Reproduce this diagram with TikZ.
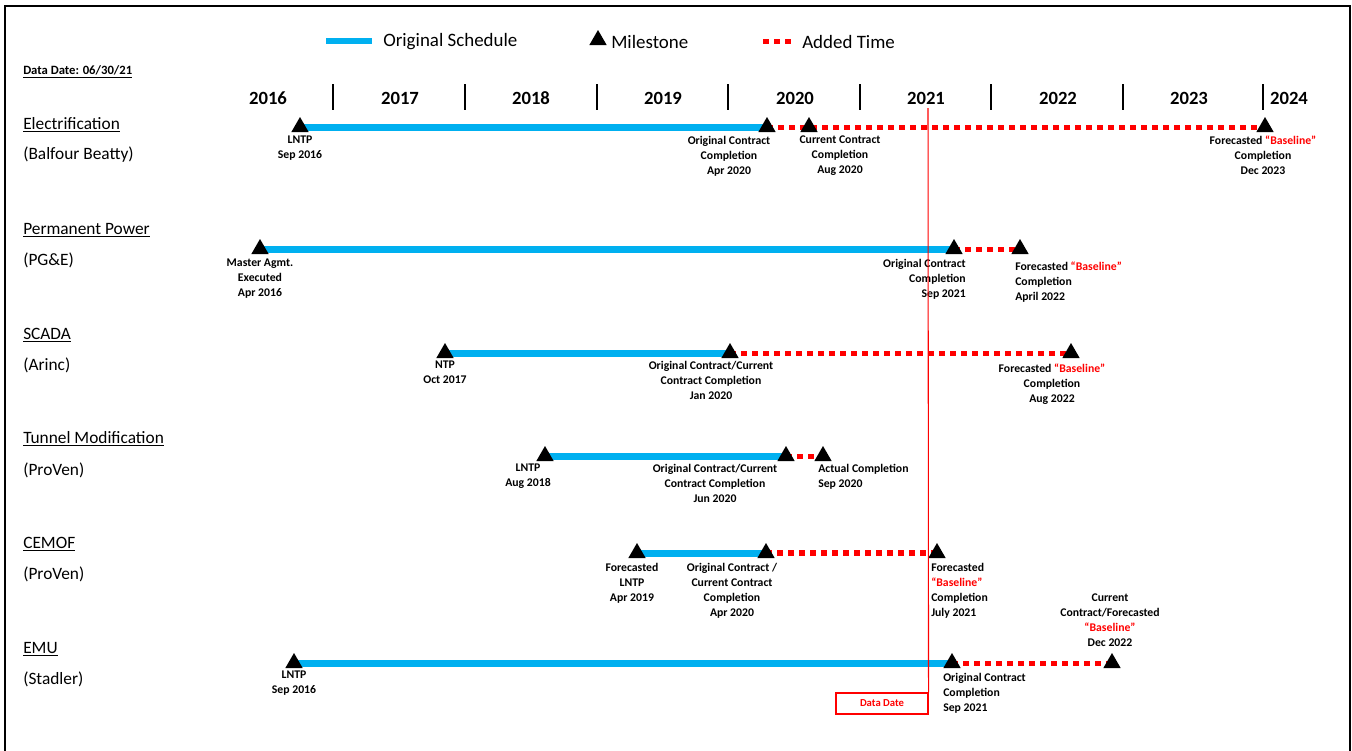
\documentclass[tikz,border=0pt]{standalone}
\usepackage{fontspec}
\setmainfont{Carlito}
\usetikzlibrary{shapes.geometric}
\definecolor{schedblue}{HTML}{00B0F0}
\definecolor{addred}{HTML}{FF0000}
\pgfdeclarelayer{bg}
\pgfsetlayers{bg,main}
\newcommand{\bl}{\textcolor{addred}{``Baseline''}}
\begin{document}
\begin{tikzpicture}[x=0.75pt,y=-0.75pt,
 ms/.style={regular polygon, regular polygon sides=3, fill=black, inner sep=0pt, minimum size=15pt},
 orig/.style={line width=5.25pt, draw=schedblue},
 added/.style={line width=3.75pt, draw=addred, dash pattern=on 4.5pt off 3.75pt},
 lbl/.style={font=\fontsize{8.8}{11.25}\selectfont\bfseries, align=center, inner sep=0pt, anchor=north},
 lbll/.style={lbl, align=left, anchor=north west},
 lblr/.style={lbl, align=right, anchor=north east},
 yr/.style={font=\fontsize{14}{16}\selectfont\bfseries, inner sep=0pt},
 tickmark/.style={line width=1pt, draw=black},
 ttl/.style={font=\fontsize{13}{15}\selectfont, anchor=west, inner sep=0pt},
 leg/.style={font=\fontsize{14.2}{16}\selectfont, anchor=west, inner sep=0pt},
]
\useasboundingbox (0,0) rectangle (1352,750);
\draw[line width=1.5pt] (5,752) -- (5,6) -- (1350,6) -- (1350,752);

% legend
\coordinate (lb1) at (326,41); \coordinate (lb2) at (372,41);
\draw[line width=4.5pt, schedblue] (lb1) -- (lb2);
\node[leg] (lbt) at (383,42) {Original Schedule};
\node[ms] (lm) at (598,40) {};
\node[leg] (lmt) at (611,42) {Milestone};
\coordinate (lr1) at (763,41); \coordinate (lr2) at (794,41);
\draw[added] (lr1) -- (lr2);
\node[leg] (lrt) at (802,42) {Added Time};

\node[font=\fontsize{9.5}{11}\selectfont\bfseries, anchor=west, inner sep=0pt] (dd) at (23,72) {\underline{Data Date: 06/30/21}};

% years
\foreach \x/\y in {268/2016,400/2017,531/2018,663/2019,795/2020,926/2021,1058/2022,1189/2023,1289/2024}
  \node[yr] (y\y) at (\x,98) {\y};
\foreach \x [count=\i] in {333,465,597,728,860,991,1123,1263}
  {\coordinate (ta\i) at (\x,84); \coordinate (tb\i) at (\x,110); \draw[tickmark] (ta\i) -- (tb\i);}

% row titles
\node[ttl] (r1a) at (23,125) {\underline{Electrification}};
\node[ttl] (r1b) at (23,155) {(Balfour Beatty)};
\node[ttl] (r2a) at (23,230) {\underline{Permanent Power}};
\node[ttl] (r2b) at (23,260) {(PG\&E)};
\node[ttl] (r3a) at (23,335) {\underline{SCADA}};
\node[ttl] (r3b) at (23,365) {(Arinc)};
\node[ttl] (r4a) at (23,439) {\underline{Tunnel Modification}};
\node[ttl] (r4b) at (23,470) {(ProVen)};
\node[ttl] (r5a) at (23,544) {\underline{CEMOF}};
\node[ttl] (r5b) at (23,574) {(ProVen)};
\node[ttl] (r6a) at (23,649) {\underline{EMU}};
\node[ttl] (r6b) at (23,679) {(Stadler)};

% data date line and box
\coordinate (dt) at (928,108);
\node[draw=addred, line width=0.8pt, minimum width=69pt, minimum height=15.75pt, inner sep=0pt,
      text=addred, font=\fontsize{8}{9}\selectfont\bfseries] (ddbox) at (882,703.5) {Data Date};

% row 1 Electrification
\node[ms] (e1) at (300,127) {};
\node[ms] (e2) at (767,127) {};
\node[ms] (e3) at (809,127) {};
\node[ms] (e4) at (1265,127) {};
\node[lbl] at (300,136) {LNTP\\Sep 2016};
\node[lbl] at (729,136) {Original Contract\\Completion\\Apr 2020};
\node[lbl] at (840,136) {Current Contract\\Completion\\Aug 2020};
\node[lbl] at (1263,136) {Forecasted \bl\\Completion\\Dec 2023};

% row 2 Permanent Power
\node[ms] (p1) at (260,249) {};
\node[ms] (p2) at (954,249) {};
\node[ms] (p3) at (1020,249) {};
\node[lbl] at (260,259) {Master Agmt.\\Executed\\Apr 2016};
\node[lblr] at (966,259) {Original Contract\\Completion\\Sep 2021};
\node[lbll] at (1015,262) {Forecasted \bl\\Completion\\April 2022};

% row 3 SCADA
\node[ms] (s1) at (445,353) {};
\node[ms] (s2) at (730,353) {};
\node[ms] (s3) at (1071,353) {};
\node[lbl] at (445,361) {NTP\\Oct 2017};
\node[lbl] at (711,361) {Original Contract/Current\\Contract Completion\\Jan 2020};
\node[lbl] at (1052,364) {Forecasted \bl\\Completion\\Aug 2022};

% row 4 Tunnel Modification
\node[ms] (t1) at (545,456) {};
\node[ms] (t2) at (786,456) {};
\node[ms] (t3) at (823,456) {};
\node[lbl] at (528,464) {LNTP\\Aug 2018};
\node[lbl] at (715,464) {Original Contract/Current\\Contract Completion\\Jun 2020};
\node[lbll] at (818,464) {Actual Completion\\Sep 2020};

% row 5 CEMOF
\node[ms] (c1) at (637,553) {};
\node[ms] (c2) at (766,553) {};
\node[ms] (c3) at (937,553) {};
\node[lbl] at (632,563) {Forecasted\\LNTP\\Apr 2019};
\node[lbl] at (732,563) {Original Contract /\\Current Contract\\Completion\\Apr 2020};
\node[lbll] at (931,563) {Forecasted\\\bl\\Completion\\July 2021};

% row 6 EMU
\node[ms] (m1) at (294,663) {};
\node[ms] (m2) at (952,663) {};
\node[ms] (m3) at (1112,663) {};
\node[lbl] at (294,671) {LNTP\\Sep 2016};
\node[lbll] at (943,673) {Original Contract\\Completion\\Sep 2021};
\node[lbl] at (1110,594) {Current\\Contract/Forecasted\\\bl\\Dec 2022};

\begin{pgfonlayer}{bg}
\fill[white] (0,0) rectangle (1352,750);
\draw[orig] (e1.center) -- (e2.center);
\draw[added] (e2.center) -- (e4.center);
\draw[orig] (p1.center) -- (p2.center);
\draw[added] (p2.center) -- (p3.center);
\draw[orig] (s1.center) -- (s2.center);
\draw[added] (s2.center) -- (s3.center);
\draw[orig] (t1.center) -- (t2.center);
\draw[added] (t2.center) -- (t3.center);
\draw[orig] (c1.center) -- (c2.center);
\draw[added, line width=4.5pt] (c2.center) -- (c3.center);
\draw[orig] (m1.center) -- (m2.center);
\draw[added] (m2.center) -- (m3.center);
\end{pgfonlayer}
\draw[addred, line width=0.8pt] (dt) -- (ddbox.north east);
\end{tikzpicture}
\end{document}
